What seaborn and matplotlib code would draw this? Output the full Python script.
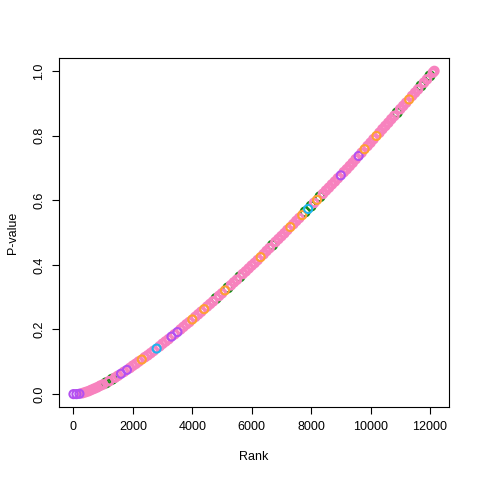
import matplotlib
matplotlib.use("Agg")
import matplotlib.pyplot as plt
import pandas as pd
import seaborn as sns

# ---------------------------------------------------------------------
# Data: sorted p-values against their rank
# ---------------------------------------------------------------------
ranks = list(range(0, 12101, 100)) + [12150]

p_values = [
    0.000, 0.000, 0.001, 0.003, 0.006, 0.009, 0.013, 0.017, 0.021, 0.026,
    0.030, 0.035, 0.040, 0.046, 0.051, 0.057, 0.063, 0.069, 0.075, 0.081,
    0.088, 0.094, 0.101, 0.107, 0.114, 0.120, 0.127, 0.134, 0.141, 0.148,
    0.156, 0.163, 0.170, 0.178, 0.185, 0.192, 0.200, 0.208, 0.216, 0.223,
    0.231, 0.239, 0.247, 0.255, 0.263, 0.271, 0.279, 0.287, 0.296, 0.304,
    0.312, 0.321, 0.329, 0.337, 0.346, 0.354, 0.363, 0.372, 0.380, 0.389,
    0.398, 0.406, 0.415, 0.424, 0.433, 0.443, 0.452, 0.461, 0.471, 0.480,
    0.489, 0.498, 0.508, 0.517, 0.526, 0.536, 0.545, 0.554, 0.564, 0.573,
    0.582, 0.592, 0.601, 0.611, 0.620, 0.630, 0.639, 0.649, 0.658, 0.668,
    0.677, 0.687, 0.696, 0.706, 0.716, 0.727, 0.737, 0.747, 0.758, 0.768,
    0.778, 0.789, 0.799, 0.809, 0.820, 0.830, 0.840, 0.851, 0.861, 0.871,
    0.882, 0.892, 0.902, 0.912, 0.923, 0.933, 0.943, 0.954, 0.964, 0.974,
    0.985, 0.995, 1.000,
]

# group of each point (by position in the lists); everything else is pink
purple_idx = [0, 1, 2, 16, 18, 33, 35, 90, 96]
blue_idx = [28, 79]
orange_idx = [23, 40, 44, 51, 63, 73, 77, 82, 98, 102, 113]
green_idx = [11, 13, 48, 52, 56, 67, 78, 80, 83, 109, 117, 120]

palette = {
    "pink": "#F782BE",
    "green": "#168C16",
    "orange": "#FFA033",
    "blue": "#1EB4F0",
    "purple": "#B450F0",
}

group = ["pink"] * len(ranks)
for name, idx in [("green", green_idx), ("orange", orange_idx),
                  ("blue", blue_idx), ("purple", purple_idx)]:
    for i in idx:
        group[i] = name

df = pd.DataFrame({"Rank": ranks, "P": p_values, "group": group})

# ---------------------------------------------------------------------
# Plot (R base-graphics look)
# ---------------------------------------------------------------------
sns.set_theme(style="ticks")
plt.rcParams["font.family"] = ["Liberation Sans", "DejaVu Sans"]

fig = plt.figure(figsize=(4.8, 4.8), dpi=100)
ax = fig.add_axes([0.123, 0.152, 0.812, 0.727])

# green mostly hidden under the pink band, the rest drawn on top of it
green = df[df["group"] == "green"]
pink = df[df["group"] == "pink"]
rest = df[~df["group"].isin(["pink", "green"])]
sns.scatterplot(data=green, x="Rank", y="P", color=palette["green"],
                s=42, marker="o", linewidth=1.5, legend=False, ax=ax)
sns.scatterplot(data=pink, x="Rank", y="P", color=palette["pink"],
                s=30, marker="o", linewidth=2.2, legend=False, ax=ax)
sns.scatterplot(data=rest, x="Rank", y="P", hue="group", palette=palette,
                s=34, marker="o", linewidth=1.5, legend=False, ax=ax)
# open circles like pch = 1
for coll in ax.collections:
    coll.set_edgecolors(coll.get_facecolors())
    coll.set_facecolors("none")

ax.set_xlim(-486, 12636)
ax.set_ylim(-0.04, 1.04)
ax.set_xticks([0, 2000, 4000, 6000, 8000, 10000, 12000])
ax.set_xticklabels(["0", "2000", "4000", "6000", "8000", "10000", "12000"])
ax.set_yticks([0.0, 0.2, 0.4, 0.6, 0.8, 1.0])
ax.set_yticklabels(["0.0", "0.2", "0.4", "0.6", "0.8", "1.0"], rotation=90,
                   va="center")

for sp in ax.spines.values():
    sp.set_visible(True)
    sp.set_color("black")
    sp.set_linewidth(0.8)
ax.tick_params(axis="both", length=5, width=0.8, color="black",
               labelsize=9, pad=5, labelcolor="black")

ax.set_xlabel("Rank", fontsize=9, labelpad=13, color="black")
ax.set_ylabel("P-value", fontsize=9, labelpad=10, color="black")

fig.savefig("out.png", dpi=100)
